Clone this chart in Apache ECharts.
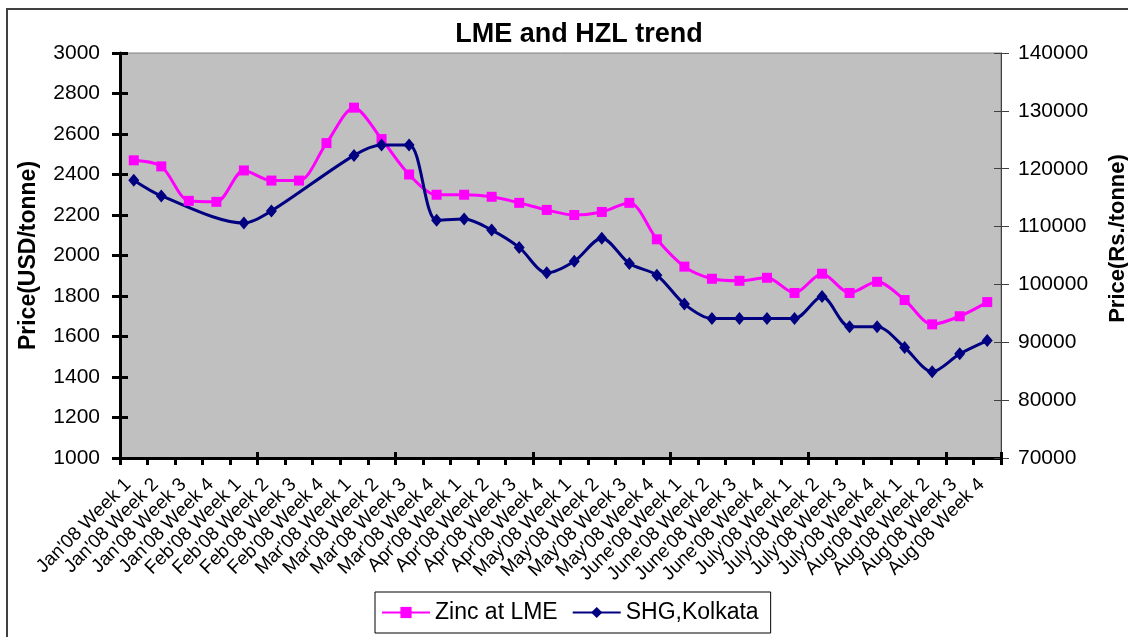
<!DOCTYPE html>
<html>
<head>
<meta charset="utf-8">
<script src="https://cdn.jsdelivr.net/npm/echarts@6/dist/echarts.min.js"></script>
<style>
  html, body { margin: 0; padding: 0; background: #fff; }
  #chart { width: 1128px; height: 637px; }
</style>
</head>
<body>
<div id="chart"></div>
<script>
// weekly categories
const weeks = [
  "Jan'08 Week 1", "Jan'08 Week 2", "Jan'08 Week 3", "Jan'08 Week 4",
  "Feb'08 Week 1", "Feb'08 Week 2", "Feb'08 Week 3", "Feb'08 Week 4",
  "Mar'08 Week 1", "Mar'08 Week 2", "Mar'08 Week 3", "Mar'08 Week 4",
  "Apr'08 Week 1", "Apr'08 Week 2", "Apr'08 Week 3", "Apr'08 Week 4",
  "May'08 Week 1", "May'08 Week 2", "May'08 Week 3", "May'08 Week 4",
  "June'08 Week 1", "June'08 Week 2", "June'08 Week 3", "June'08 Week 4",
  "July'08 Week 1", "July'08 Week 2", "July'08 Week 3", "July'08 Week 4",
  "Aug'08 Week 1", "Aug'08 Week 2", "Aug'08 Week 3", "Aug'08 Week 4"
]
// USD/tonne (left axis)
const zincLME = [
  2470, 2440, 2270, 2265, 2420, 2370, 2370, 2555,
  2730, 2575, 2400, 2300, 2300, 2290, 2260, 2225,
  2200, 2215, 2260, 2080, 1945, 1885, 1875, 1890,
  1815, 1910, 1815, 1870, 1780, 1660, 1700, 1770
]
// Rs./tonne (right axis), gaps where no price was given
const shgKolkata = [
  118000, 115300, null, null, 110600, 112700, null, null,
  122300, 124100, 124100, 111100, 111300, 109400, 106400, 102000,
  104000, 108000, 103600, 101600, 96600, 94100, 94100, 94100,
  94100, 97900, 92700, 92700, 89100, 84900, 88000, 90300
]
const leftTicks = { min: 1000, max: 3000, interval: 200 }
const rightTicks = { min: 70000, max: 140000, interval: 10000 }

const font = 'Liberation Sans, Arial, sans-serif'
const plain = v => String(v)
const chart = echarts.init(document.getElementById('chart'))

chart.setOption({
  animation: false,
  textStyle: { fontFamily: font, color: '#000' },
  title: {
    text: 'LME and HZL trend',
    left: 574,
    top: 16,
    textAlign: 'center',
    textStyle: { fontFamily: font, fontSize: 27, fontWeight: 'bold', color: '#000' }
  },
  graphic: [
    {
      type: 'rect',
      shape: { x: 7, y: 9, width: 1160, height: 680 },
      style: { fill: 'none', stroke: '#404040', lineWidth: 2 },
      silent: true
    }
  ],
  legend: {
    left: 375,
    top: 592,
    itemWidth: 48,
    itemHeight: 14,
    itemGap: 14,
    borderColor: '#000',
    borderWidth: 1,
    padding: [9, 12, 9, 6],
    textStyle: { fontFamily: font, fontSize: 23, color: '#000' },
    data: ['Zinc at LME', 'SHG,Kolkata']
  },
  grid: {
    left: 120,
    right: 127,
    top: 53,
    bottom: 179,
    outerBoundsMode: 'none',
    show: true,
    backgroundColor: '#c0c0c0',
    borderColor: '#808080',
    borderWidth: 1
  },
  xAxis: [
    {
      type: 'category',
      data: weeks,
      position: 'bottom',
      axisLine: { onZero: false, lineStyle: { color: '#000', width: 3 } },
      axisTick: { show: true, length: 7, lineStyle: { color: '#000', width: 3 } },
      axisLabel: {
        interval: 0,
        rotate: 45,
        margin: 18,
        padding: [0, 8, 0, 0],
        fontFamily: font,
        fontSize: 19,
        color: '#000'
      }
    },
    {
      // inner half of the crossing ticks
      type: 'category',
      data: weeks,
      position: 'bottom',
      axisLine: { show: false, onZero: false },
      axisTick: { show: true, inside: true, length: 6, lineStyle: { color: '#000', width: 3 } },
      axisLabel: { show: false }
    }
  ],
  yAxis: [
    {
      type: 'value',
      position: 'left',
      min: leftTicks.min,
      max: leftTicks.max,
      interval: leftTicks.interval,
      name: 'Price(USD/tonne)',
      nameLocation: 'middle',
      nameRotate: 90,
      nameGap: 80,
      nameTextStyle: { fontFamily: font, fontSize: 23, fontWeight: 'bold', color: '#000' },
      axisLine: { show: true, lineStyle: { color: '#000', width: 3 } },
      axisTick: { show: true, length: 8, lineStyle: { color: '#000', width: 3 } },
      axisLabel: { margin: 20, fontFamily: font, fontSize: 21, color: '#000', formatter: plain },
      splitLine: { show: false }
    },
    {
      type: 'value',
      position: 'right',
      min: rightTicks.min,
      max: rightTicks.max,
      interval: rightTicks.interval,
      name: 'Price(Rs./tonne)',
      nameLocation: 'middle',
      nameRotate: 90,
      nameGap: 106,
      nameTextStyle: {
        fontFamily: font, fontSize: 22, fontWeight: 'bold', color: '#000',
        padding: [0, 0, 0, 34]
      },
      axisLine: { show: true, lineStyle: { color: '#404040', width: 1 } },
      axisTick: { show: true, length: 8, lineStyle: { color: '#404040', width: 1 } },
      axisLabel: { margin: 17, fontFamily: font, fontSize: 21, color: '#000', formatter: plain },
      splitLine: { show: false }
    },
    {
      type: 'value',
      position: 'left',
      min: leftTicks.min,
      max: leftTicks.max,
      interval: leftTicks.interval,
      axisLine: { show: false },
      axisTick: { show: true, inside: true, length: 8, lineStyle: { color: '#000', width: 3 } },
      axisLabel: { show: false },
      splitLine: { show: false }
    },
    {
      type: 'value',
      position: 'right',
      min: rightTicks.min,
      max: rightTicks.max,
      interval: rightTicks.interval,
      axisLine: { show: false },
      axisTick: { show: true, inside: true, length: 7, lineStyle: { color: '#404040', width: 1 } },
      axisLabel: { show: false },
      splitLine: { show: false }
    }
  ],
  series: [
    {
      name: 'Zinc at LME',
      type: 'line',
      xAxisIndex: 0,
      yAxisIndex: 0,
      data: zincLME,
      smooth: 0.3,
      symbol: 'rect',
      symbolSize: 10,
      itemStyle: { color: '#ff00ff' },
      lineStyle: { color: '#ff00ff', width: 3 }
    },
    {
      name: 'SHG,Kolkata',
      type: 'line',
      xAxisIndex: 0,
      yAxisIndex: 1,
      data: shgKolkata,
      connectNulls: true,
      smooth: 0.3,
      symbol: 'diamond',
      symbolSize: [11, 13],
      itemStyle: { color: '#000080' },
      lineStyle: { color: '#000080', width: 3 }
    }
  ]
})
</script>
</body>
</html>
